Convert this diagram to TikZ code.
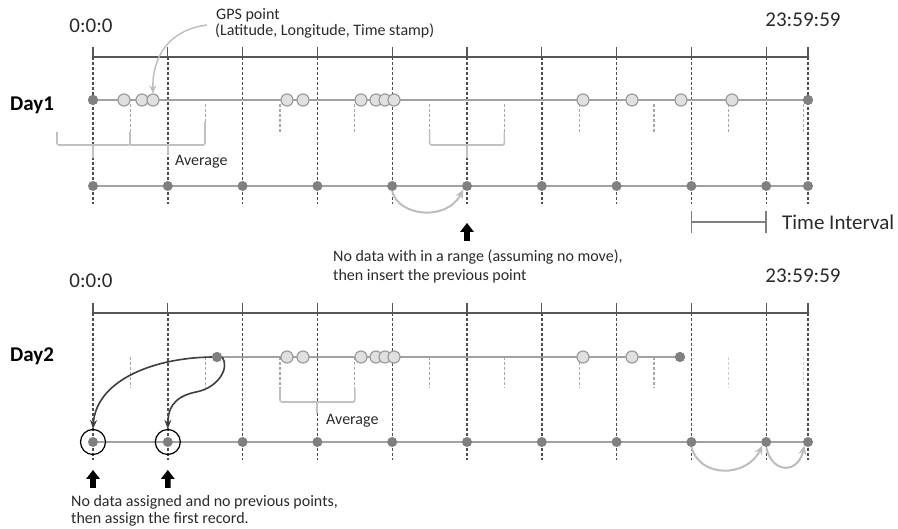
\documentclass[tikz,border=0pt]{standalone}
\usepackage{fontspec}
\setmainfont{Carlito}
\usetikzlibrary{arrows.meta}
\definecolor{axisc}{HTML}{585858}
\definecolor{dashc}{HTML}{4E4E4E}
\definecolor{linec}{HTML}{A2A2A2}
\definecolor{dotc}{HTML}{808080}
\definecolor{circf}{HTML}{E0E0E0}
\definecolor{circd}{HTML}{9C9C9C}
\definecolor{brc}{HTML}{C0C0C0}
\definecolor{tickc}{HTML}{A8A8A8}
\definecolor{faintc}{HTML}{D0D0D0}
\definecolor{arrc}{HTML}{3E3E3E}
\definecolor{garrc}{HTML}{BDBDBD}
\definecolor{txtc}{HTML}{2A2A2A}
\tikzset{
  axisline/.style={draw=axisc, line width=1.3pt},
  vdash/.style={draw=dashc, line width=1.4pt, dash pattern=on 3pt off 2pt},
  dayline/.style={draw=linec, line width=2.2pt},
  dotn/.style={circle, fill=dotc, inner sep=0pt, minimum size=10pt},
  gpsn/.style={circle, fill=circf, draw=circd, line width=1.2pt, inner sep=0pt, minimum size=12pt},
  subtick/.style={draw=tickc, line width=1.1pt, dash pattern=on 3pt off 2pt},
  faintick/.style={draw=faintc, line width=1.1pt, dash pattern=on 3pt off 2pt},
  bracebox/.style={draw=brc, line width=1.6pt, rounded corners=2pt},
  ringn/.style={circle, draw=black, line width=1.2pt, minimum size=25pt, inner sep=0pt},
  timelbl/.style={font=\fontsize{21}{24}\selectfont, text=txtc, anchor=base, inner sep=0pt},
  daylbl/.style={font=\bfseries\fontsize{21}{24}\selectfont, text=black, anchor=base west, inner sep=0pt},
  smalllbl/.style={font=\fontsize{16}{18}\selectfont, text=txtc, anchor=base west, inner sep=0pt},
  garrow/.style={draw=garrc, line width=2pt, -{Stealth[length=9pt,width=8pt]}},
  darrow/.style={draw=arrc, line width=1.6pt, -{Stealth[length=9pt,width=7pt]}},
  uparr/.pic={\fill[black] (0,0) -- (-7,9) -- (-2.8,9) -- (-2.8,18) -- (2.8,18) -- (2.8,9) -- (7,9) -- cycle;}
}
\begin{document}
\begin{tikzpicture}[x=1pt, y=-1pt]
\useasboundingbox (0,0) rectangle (898,529);

% ===================== DAY 1 =====================
\node[timelbl] (z1) at (91,33) {0:0:0};
\node[timelbl] (e1) at (803,27) {23:59:59};
\node[smalllbl] (gpsa) at (216,20) {GPS point};
\node[smalllbl] (gpsb) at (215,36) {(Latitude, Longitude, Time stamp)};
\node[daylbl] (day1) at (10,111) {Day1};

% axis
\coordinate (a1s) at (93,57);
\coordinate (a1e) at (808,57);
\draw[axisline] (a1s) -- (a1e);
\foreach \i in {0,...,9} {
  \pgfmathsetmacro{\xx}{93+74.8*\i}
  \coordinate (t1-\i) at (\xx,57);
  \draw[axisline] (\xx,47) -- (t1-\i);
  \draw[vdash] (t1-\i) -- (\xx,204);
}
\coordinate (t1-10) at (808,57);
\draw[axisline] (808,47) -- (t1-10);
\draw[vdash] (t1-10) -- (808,204);

% sub ticks
\foreach \i in {0,...,9} {
  \pgfmathsetmacro{\xx}{130.4+74.8*\i}
  \draw[subtick] (\xx,104) -- (\xx,132);
}

% braces
\draw[bracebox] (57,132) -- (57,145) -- (130,145) -- (130,132);
\draw[bracebox] (93,145) -- (93,158);
\draw[bracebox] (130,145) -- (205,145) -- (205,122);
\draw[bracebox] (168,145) -- (168,155);
\draw[bracebox] (429.6,132) -- (429.6,145) -- (504.4,145) -- (504.4,132);
\draw[bracebox] (467,145) -- (467,158);
\node[smalllbl] (avg1) at (175,166) {Average};

% day1 raw line
\node[dotn] (p1s) at (93,100) {};
\node[dotn] (p1e) at (808,100) {};
\draw[dayline] (p1s) -- (p1e);
\node[dotn] at (93,100) {};
\node[dotn] at (808,100) {};
\foreach \x [count=\k] in {124,142,153,287,303,361,376,385,394,583,632,681,732} {
  \node[gpsn] (g1-\k) at (\x,100) {};
}

% day1 resampled line
\coordinate (r1s) at (93,186);
\coordinate (r1e) at (808,186);
\draw[dayline] (r1s) -- (r1e);
\foreach \i in {0,...,9} {
  \pgfmathsetmacro{\xx}{93+74.8*\i}
  \node[dotn] (r1-\i) at (\xx,186) {};
}
\node[dotn] (r1-10) at (808,186) {};

% GPS point arrow
\coordinate (gpsfrom) at (207,25);
\draw[draw=garrc, line width=1.4pt, -{Stealth[length=8pt,width=7pt]}]
  (gpsfrom) .. controls (168,30) and (152,58) .. (g1-3.north);

% previous point arrow
\draw[garrow] (r1-4.south) .. controls (398,216) and (446,222) .. (r1-5.south west);
\pic at (467,223) {uparr};
\node[smalllbl] (note1a) at (333,262) {No data with in a range (assuming no move),};
\node[smalllbl] (note1b) at (333,281) {then insert the previous point};

% time interval
\coordinate (tia) at (691.4,222);
\coordinate (tib) at (766.2,222);
\draw[draw=dotc, line width=1.6pt] (tia) -- (tib);
\draw[draw=dotc, line width=1.6pt] (691.4,211) -- (691.4,233);
\draw[draw=dotc, line width=1.6pt] (766.2,211) -- (766.2,233);
\node[font=\fontsize{21}{24}\selectfont, text=txtc, anchor=base west, inner sep=0pt] (tilbl) at (782,230) {Time Interval};

% ===================== DAY 2 =====================
\node[timelbl] (z2) at (91,288) {0:0:0};
\node[timelbl] (e2) at (803,283) {23:59:59};
\node[daylbl] (day2) at (10,362) {Day2};

\coordinate (a2s) at (93,313);
\coordinate (a2e) at (808,313);
\draw[axisline] (a2s) -- (a2e);
\foreach \i in {0,...,9} {
  \pgfmathsetmacro{\xx}{93+74.8*\i}
  \coordinate (t2-\i) at (\xx,313);
  \draw[axisline] (\xx,303) -- (t2-\i);
  \draw[vdash] (t2-\i) -- (\xx,460);
}
\coordinate (t2-10) at (808,313);
\draw[axisline] (808,303) -- (t2-10);
\draw[vdash] (t2-10) -- (808,460);

% sub ticks
\foreach \i in {0,...,7} {
  \pgfmathsetmacro{\xx}{130.4+74.8*\i}
  \draw[subtick] (\xx,357) -- (\xx,388);
}
\draw[faintick] (728.8,357) -- (728.8,388);
\draw[faintick] (803.6,357) -- (803.6,388);

% brace
\draw[bracebox] (280,388) -- (280,402) -- (354.8,402) -- (354.8,388);
\draw[bracebox] (317,402) -- (317,413);
\node[smalllbl] (avg2) at (326,425) {Average};

% day2 raw line
\node[dotn] (p2s) at (217,357) {};
\node[dotn] (p2e) at (680,357) {};
\draw[dayline] (p2s) -- (p2e);
\node[dotn] at (217,357) {};
\node[dotn] at (680,357) {};
\foreach \x [count=\k] in {287,303,361,376,385,394,583,632} {
  \node[gpsn] (g2-\k) at (\x,357) {};
}

% day2 resampled line
\coordinate (r2s) at (93,442);
\coordinate (r2e) at (808,442);
\draw[dayline] (r2s) -- (r2e);
\foreach \i in {0,...,9} {
  \pgfmathsetmacro{\xx}{93+74.8*\i}
  \node[dotn] (r2-\i) at (\xx,442) {};
}
\node[dotn] (r2-10) at (808,442) {};

% rings
\node[ringn] (ring0) at (93,442) {};
\node[ringn] (ring1) at (167.8,442) {};

% first record arrows
\draw[darrow] (p2s.west) .. controls (150,358) and (96,382) .. (ring0.north);
\draw[darrow] (p2s.east) .. controls (230,368) and (218,388) .. (196,392)
  .. controls (172,397) and (168,410) .. (ring1.north);

% interval arrows
\draw[garrow] (r2-8.south) .. controls (700,478) and (746,478) .. (r2-9.south west);
\draw[garrow] (r2-9.south) .. controls (772,474) and (798,474) .. (r2-10.south west);

\pic at (93,470) {uparr};
\pic at (167.8,470) {uparr};
\node[smalllbl] (note2a) at (71,507) {No data assigned and no previous points,};
\node[smalllbl] (note2b) at (71,524) {then assign the first record.};

\end{tikzpicture}
\end{document}
